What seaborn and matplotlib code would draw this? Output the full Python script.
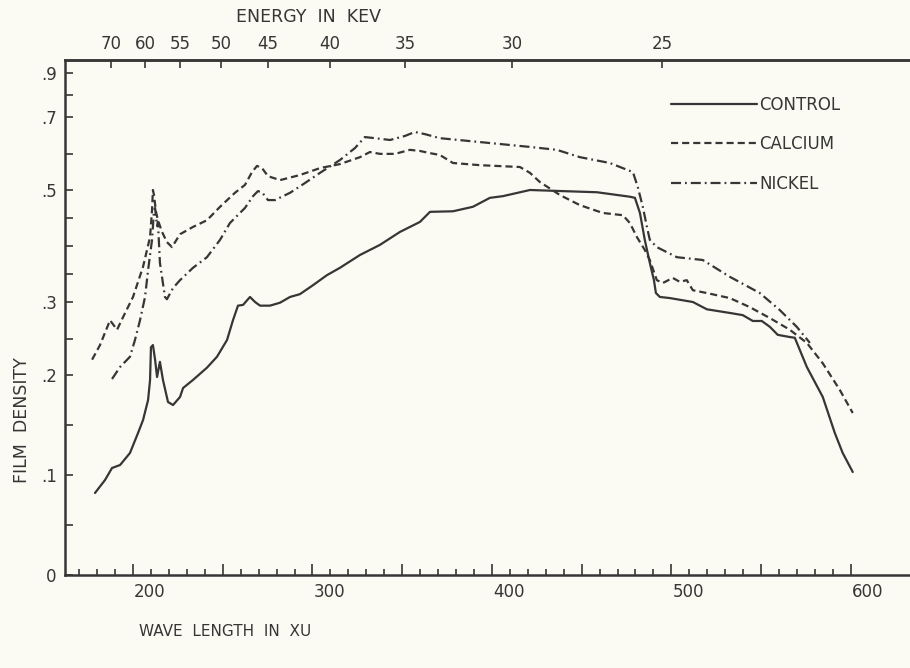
import numpy as np
import pandas as pd
import matplotlib
matplotlib.use("Agg")
import matplotlib.pyplot as plt
import seaborn as sns
from matplotlib.transforms import ScaledTranslation

# curves: wave length (XU) and film density
control_xu = [178.8, 184.4, 188.3, 192.8, 198.3, 202.8, 205.6, 208.4, 209.5, 210.0, 211.1, 212.3, 213.4,
              215.0, 216.7, 219.5, 222.3, 226.2, 227.9, 233.4, 241.2, 246.8, 252.4, 255.7, 258.5, 261.3,
              265.2, 268.0, 270.8, 276.3, 281.9, 287.5, 293.0, 300.3, 308.1, 315.3, 326.5, 337.6, 348.7,
              359.9, 365.5, 378.3, 389.4, 398.9, 406.1, 421.2, 439.6, 458.5, 476.9, 479.7, 482.5, 485.2,
              488.0, 490.3, 491.4, 493.6, 499.2, 512.0, 519.8, 532.6, 539.8, 545.4, 550.4, 554.9, 559.3,
              566.0, 568.8, 575.5, 584.4, 591.1, 595.5, 601.1]
control_d = [.082, .095, .107, .110, .122, .142, .155, .175, .195, .238, .241, .221, .198,
             .218, .195, .173, .170, .178, .187, .195, .210, .225, .248, .275, .295, .296,
             .309, .300, .295, .295, .299, .309, .314, .330, .348, .361, .384, .402, .425,
             .443, .461, .462, .470, .486, .489, .500, .498, .496, .488, .486, .459, .411,
             .370, .339, .316, .309, .307, .300, .290, .285, .282, .274, .274, .266, .255,
             .252, .251, .211, .178, .142, .122, .103]

calcium_xu = [177.2, 181.6, 187.2, 191.1, 194.4, 200.0, 205.6, 209.5, 210.6, 211.1, 211.7, 212.8, 213.9,
              216.2, 218.9, 221.7, 226.2, 233.4, 241.2, 248.5, 256.8, 262.4, 266.3, 269.1, 271.9, 275.2,
              281.9, 293.0, 304.2, 315.3, 326.5, 332.0, 337.6, 346.0, 354.3, 359.9, 365.5, 371.0, 378.3,
              393.3, 415.6, 421.2, 426.7, 437.9, 449.0, 461.8, 473.0, 476.9, 480.8, 485.2, 488.0, 491.9,
              495.3, 500.8, 504.7, 508.6, 512.0, 519.8, 532.6, 543.7, 554.9, 566.0, 575.5, 584.4, 593.9,
              601.1]
calcium_d = [.221, .241, .275, .262, .279, .309, .363, .416, .464, .500, .491, .461, .446,
             .425, .407, .398, .421, .434, .446, .470, .495, .514, .549, .566, .560, .538,
             .527, .541, .560, .571, .590, .604, .599, .599, .610, .607, .601, .596, .574,
             .568, .563, .547, .522, .491, .473, .459, .455, .441, .416, .393, .375, .339,
             .334, .343, .336, .339, .321, .316, .307, .293, .278, .262, .244, .216, .185,
             .162]

nickel_xu = [188.3, 192.8, 198.3, 201.1, 203.9, 206.7, 208.4, 210.6, 211.7, 212.3, 213.4, 213.9, 215.0,
             217.8, 218.9, 222.3, 226.2, 233.4, 241.2, 248.5, 254.0, 262.4, 266.9, 269.6, 271.9, 275.2,
             279.1, 287.5, 295.8, 304.2, 315.3, 323.7, 329.2, 334.8, 343.2, 351.5, 357.1, 362.7, 371.0,
             387.7, 404.5, 421.2, 436.2, 449.0, 465.7, 478.6, 481.3, 484.1, 486.4, 488.0, 491.9, 503.1,
             517.5, 532.6, 549.3, 560.4, 569.9, 577.2]
nickel_d = [.196, .211, .225, .248, .275, .309, .357, .411, .464, .468, .436, .443, .370,
            .309, .305, .325, .339, .361, .380, .411, .441, .468, .489, .498, .496, .482,
            .482, .495, .519, .547, .582, .615, .645, .642, .637, .648, .659, .653, .642,
            .634, .626, .618, .610, .590, .574, .549, .508, .470, .434, .411, .398, .380,
            .375, .345, .316, .289, .266, .244]

samples = ["CONTROL", "CALCIUM", "NICKEL"]

# top axis: energy marks as placed on the plate
energy_labels = ["70", "60", "55", "50", "45", "40", "35", "30", "25"]
energy_xu = [187.7, 206.7, 226.2, 249.0, 275.2, 309.7, 351.5, 411.1, 494.7]

x_major = [200, 250, 300, 350, 400, 450, 500, 550, 600]
x_major_labels = ["200", "", "300", "", "400", "", "500", "", "600"]
x_minor = list(range(170, 600, 10))

y_major = [0, .1, .2, .3, .5, .7, .9]
y_major_labels = ["0", ".1", ".2", ".3", ".5", ".7", ".9"]
y_minor = [.05, .15, .25, .35, .4, .45, .6, .8]

# the density axis of the plate is not linear: row of each density value on the sheet
scale_d = np.array([0, .1, .2, .3, .5, .7, .9, 1.0])
scale_row = np.array([575, 475, 375, 302, 190, 117, 73, 60], dtype=float)


def fwd(d):
    return np.interp(d, scale_d, -scale_row)


def inv(p):
    return np.interp(p, -scale_row, scale_d)


df = pd.concat([
    pd.DataFrame({"xu": control_xu, "density": control_d, "sample": "CONTROL"}),
    pd.DataFrame({"xu": calcium_xu, "density": calcium_d, "sample": "CALCIUM"}),
    pd.DataFrame({"xu": nickel_xu, "density": nickel_d, "sample": "NICKEL"}),
], ignore_index=True)

paper = "#fbfbf3"
ink = "#363636"

sns.set_style("ticks")
plt.rcParams["font.family"] = ["DejaVu Sans"]
plt.rcParams["text.color"] = ink
plt.rcParams["xtick.color"] = ink
plt.rcParams["ytick.color"] = ink
plt.rcParams["axes.edgecolor"] = ink

fig = plt.figure(figsize=(9.1, 6.68), dpi=100, facecolor=paper)
ax = fig.add_axes([65 / 910, 93 / 668, 1 - 65 / 910, (575 - 60) / 668])
ax.set_facecolor(paper)
ax.set_yscale("function", functions=(fwd, inv))

sns.lineplot(data=df, x="xu", y="density", style="sample", style_order=samples,
             dashes={"CONTROL": "", "CALCIUM": (3.2, 1.8), "NICKEL": (4.5, 1.8, 0.8, 1.8)},
             color=ink, linewidth=1.6, sort=False, estimator=None, ax=ax)

ax.set_xlim(162.1, 633)
ax.set_ylim(0, 1.0)

ax.set_xticks(x_major)
ax.set_xticklabels(x_major_labels)
ax.set_xticks(x_minor, minor=True)
ax.set_yticks(y_major)
ax.set_yticklabels(y_major_labels)
ax.set_yticks(y_minor, minor=True)
ax.yaxis.set_minor_formatter(plt.NullFormatter())

ax.tick_params(axis="x", which="major", direction="in", length=8, width=1.2, labelsize=12, pad=6)
ax.tick_params(axis="x", which="minor", direction="in", length=4, width=1.2)
ax.tick_params(axis="y", which="major", direction="in", length=6, width=1.2, labelsize=12, pad=6)
ax.tick_params(axis="y", which="minor", direction="in", length=6, width=1.2)

# hand lettering sits a bit right of the marks
shift = ScaledTranslation(17 / 100, 0, fig.dpi_scale_trans)
for lbl in ax.get_xticklabels():
    lbl.set_transform(lbl.get_transform() + shift)

for side in ["left", "bottom", "top"]:
    ax.spines[side].set_linewidth(1.8)
ax.spines["right"].set_visible(False)

ax.set_xlabel("")
ax.set_ylabel("")

top = ax.twiny()
top.set_xlim(ax.get_xlim())
top.set_xticks(energy_xu)
top.set_xticklabels(energy_labels)
top.tick_params(axis="x", direction="in", length=6, width=1.2, labelsize=12, pad=5)
for side in ["left", "bottom", "right"]:
    top.spines[side].set_visible(False)
top.spines["top"].set_linewidth(1.8)

fig.text(309 / 910, 1 - 17 / 668, "ENERGY  IN  KEV", ha="center", va="center", fontsize=12.5)
fig.text(225 / 910, 1 - 632 / 668, "WAVE  LENGTH  IN  XU", ha="center", va="center", fontsize=11)
fig.text(22 / 910, 1 - 420 / 668, "FILM  DENSITY", ha="center", va="center", rotation=90, fontsize=12.5)

handles, labels = ax.get_legend_handles_labels()
keep = [(h, l) for h, l in zip(handles, labels) if l in samples]
ax.get_legend().remove()
leg = fig.legend([h for h, _ in keep], [l for _, l in keep], loc="upper left",
                 bbox_to_anchor=(664 / 910, 1 - 89 / 668), frameon=False, fontsize=12,
                 handlelength=5.2, handletextpad=0.1, labelspacing=1.3, borderaxespad=0)
for line in leg.get_lines():
    line.set_color(ink)
    line.set_linewidth(1.6)

fig.savefig("out.png", dpi=100, facecolor=paper)
